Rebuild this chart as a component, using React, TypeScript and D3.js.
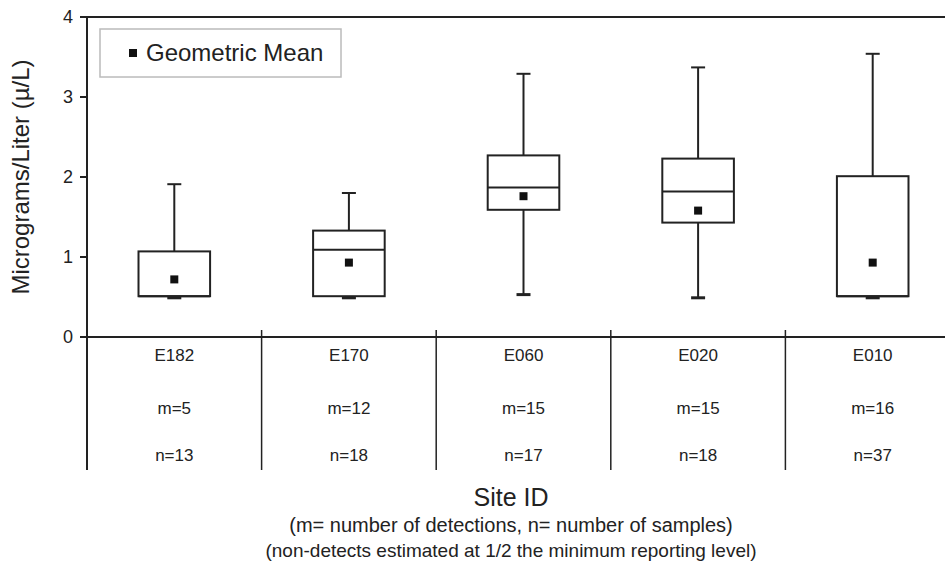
import React from "react";
import * as d3 from "d3";

const sites = ["E182", "E170", "E060", "E020", "E010"];
const detections = [5, 12, 15, 15, 16];
const samples = [13, 18, 17, 18, 37];
const whiskerLow = [0.49, 0.49, 0.53, 0.49, 0.49];
const q1 = [0.51, 0.51, 1.59, 1.43, 0.51];
const median = [0.51, 1.09, 1.87, 1.82, 0.51];
const q3 = [1.07, 1.33, 2.27, 2.23, 2.01];
const whiskerHigh = [1.91, 1.8, 3.29, 3.37, 3.54];
const geoMean = [0.72, 0.93, 1.76, 1.58, 0.93];
const yTicks = [0, 1, 2, 3, 4];

const W = 945;
const H = 570;
const left = 87;
const top = 17;
const bottom = 337;
const right = 960;
const font = "Arial, 'Liberation Sans', sans-serif";

const App = () => {
  const x = d3.scaleBand().domain(sites).range([left, right]);
  const y = d3.scaleLinear().domain([0, 4]).range([bottom, top]);
  const bw = x.bandwidth() * 0.41;
  const cap = 14;
  const tableBottom = 470;

  return (
    <svg width={W} height={H} style={{ position: "absolute", left: 0, top: 0, background: "#fff" }}>
      <rect width={W} height={H} fill="#fff" />
      {/* frame */}
      <line x1={left} x2={W} y1={top} y2={top} stroke="#222" strokeWidth={2} />
      <line x1={left} x2={left} y1={top} y2={tableBottom} stroke="#222" strokeWidth={2} />
      <line x1={left - 7} x2={W} y1={bottom} y2={bottom} stroke="#222" strokeWidth={2} />
      {yTicks.map((t) => (
        <g key={t}>
          <line x1={left - 7} x2={left} y1={y(t)} y2={y(t)} stroke="#222" strokeWidth={2} />
          <text x={left - 14} y={y(t)} dy="0.35em" textAnchor="end" fontFamily={font} fontSize={18} fill="#222">
            {t}
          </text>
        </g>
      ))}
      {sites.slice(1).map((s) => (
        <line key={s} x1={x(s)} x2={x(s)} y1={bottom - 7} y2={tableBottom} stroke="#222" strokeWidth={1.5} />
      ))}

      {/* boxes */}
      {sites.map((s, i) => {
        const cx = (x(s) as number) + x.bandwidth() / 2;
        return (
          <g key={s} stroke="#222" strokeWidth={2} fill="none">
            <line x1={cx} x2={cx} y1={y(q3[i])} y2={y(whiskerHigh[i])} />
            <line x1={cx - cap / 2} x2={cx + cap / 2} y1={y(whiskerHigh[i])} y2={y(whiskerHigh[i])} />
            <line x1={cx} x2={cx} y1={y(q1[i])} y2={y(whiskerLow[i])} />
            <line x1={cx - cap / 2} x2={cx + cap / 2} y1={y(whiskerLow[i])} y2={y(whiskerLow[i])} strokeWidth={3} />
            <rect x={cx - bw / 2} y={y(q3[i])} width={bw} height={y(q1[i]) - y(q3[i])} fill="#fff" />
            <line x1={cx - bw / 2} x2={cx + bw / 2} y1={y(median[i])} y2={y(median[i])} />
            <rect x={cx - 4} y={y(geoMean[i]) - 4} width={8} height={8} fill="#111" stroke="none" />
          </g>
        );
      })}

      {/* table labels */}
      {sites.map((s, i) => {
        const cx = (x(s) as number) + x.bandwidth() / 2;
        return (
          <g key={s} fontFamily={font} fontSize={17} fill="#222" textAnchor="middle">
            <text x={cx} y={355} dy="0.35em">{s}</text>
            <text x={cx} y={408} dy="0.35em">{`m=${detections[i]}`}</text>
            <text x={cx} y={455} dy="0.35em">{`n=${samples[i]}`}</text>
          </g>
        );
      })}

      {/* legend */}
      <rect x={100} y={29} width={241} height={48} fill="#fff" stroke="#bbb" strokeWidth={1.5} />
      <rect x={129} y={49} width={8} height={8} fill="#111" />
      <text x={146} y={53} dy="0.35em" fontFamily={font} fontSize={24} fill="#222">
        Geometric Mean
      </text>

      {/* axis titles */}
      <text
        transform={`translate(21,177) rotate(-90)`}
        textAnchor="middle"
        dy="0.35em"
        fontFamily={font}
        fontSize={24}
        fill="#222"
      >
        Micrograms/Liter (µ/L)
      </text>
      <g fontFamily={font} fill="#222" textAnchor="middle">
        <text x={511} y={497} dy="0.35em" fontSize={25}>Site ID</text>
        <text x={511} y={525} dy="0.35em" fontSize={20}>(m= number of detections, n= number of samples)</text>
        <text x={511} y={550} dy="0.35em" fontSize={19}>(non-detects estimated at 1/2 the minimum reporting level)</text>
      </g>
    </svg>
  );
};

export default App;
